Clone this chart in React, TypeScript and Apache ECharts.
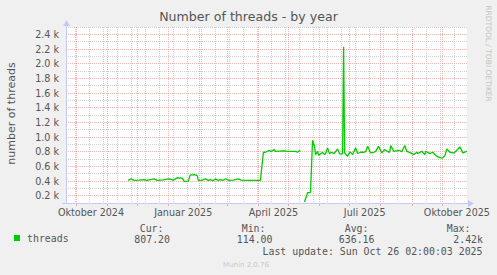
import React, { useEffect, useRef } from "react";
import * as echarts from "echarts";

// ---- data ----
const DATES = [
  "2024-11-22","2024-11-25","2024-11-28","2024-12-03","2024-12-08","2024-12-11","2024-12-18","2024-12-21","2024-12-27",
  "2025-01-02","2025-01-06","2025-01-10","2025-01-15","2025-01-17","2025-01-21","2025-01-23","2025-01-27","2025-01-30","2025-01-31",
  "2025-02-04","2025-02-07","2025-02-10","2025-02-12","2025-02-15","2025-02-17","2025-02-20","2025-02-22","2025-02-25","2025-02-27",
  "2025-03-03","2025-03-07","2025-03-12","2025-03-15","2025-03-24","2025-04-03",
  "2025-04-06","2025-04-08","2025-04-12","2025-04-13","2025-04-17","2025-04-18","2025-04-26","2025-05-01","2025-05-08","2025-05-10","2025-05-12","2025-05-13",
  "2025-05-15",
  "2025-05-17","2025-05-20","2025-05-23","2025-05-25","2025-05-27","2025-05-28","2025-05-30","2025-05-31",
  "2025-06-02","2025-06-04","2025-06-06","2025-06-07","2025-06-09","2025-06-11","2025-06-13","2025-06-15","2025-06-17","2025-06-19","2025-06-21","2025-06-24","2025-06-25","2025-06-26","2025-06-29",
  "2025-07-01","2025-07-02","2025-07-04","2025-07-07","2025-07-09","2025-07-12","2025-07-15","2025-07-17","2025-07-19","2025-07-22","2025-07-25","2025-07-27","2025-07-30",
  "2025-08-02","2025-08-05","2025-08-08","2025-08-10","2025-08-11","2025-08-14","2025-08-19","2025-08-22","2025-08-25","2025-08-27","2025-08-31",
  "2025-09-03","2025-09-06","2025-09-07","2025-09-11","2025-09-14","2025-09-15","2025-09-19","2025-09-22","2025-09-24","2025-09-26","2025-09-30",
  "2025-10-02","2025-10-04","2025-10-06","2025-10-09","2025-10-13","2025-10-16","2025-10-19","2025-10-22","2025-10-25","2025-10-26",
];
const THREADS: (number | null)[] = [
  409,428,409,412,419,409,428,409,414,
  428,412,442,440,395,398,480,487,473,409,
  412,428,409,419,405,428,409,419,409,428,
  409,412,428,412,409,409,
  792,792,819,800,828,805,810,805,805,792,812,805,
  null,
  114,240,245,955,870,760,805,751,
  770,790,760,775,852,770,792,775,800,838,770,770,2231,783,737,
  790,790,760,852,775,792,792,800,874,783,790,805,875,
  783,828,800,792,883,805,819,800,883,805,783,
  760,792,774,805,760,805,774,792,760,737,715,
  715,746,838,792,783,819,865,783,800,807,
];

const MONTH_STARTS = [
  "2024-10-01","2024-11-01","2024-12-01","2025-01-01","2025-02-01","2025-03-01","2025-04-01",
  "2025-05-01","2025-06-01","2025-07-01","2025-08-01","2025-09-01","2025-10-01",
];
const BIWEEKLY = [
  "2024-09-30","2024-10-14","2024-10-28","2024-11-11","2024-11-25","2024-12-09","2024-12-23",
  "2025-01-06","2025-01-20","2025-02-03","2025-02-17","2025-03-03","2025-03-17","2025-03-31",
  "2025-04-14","2025-04-28","2025-05-12","2025-05-26","2025-06-09","2025-06-23","2025-07-07",
  "2025-07-21","2025-08-04","2025-08-18","2025-09-01","2025-09-15","2025-09-29","2025-10-13",
];
const LABEL_DATES = ["2024-10-16","2025-01-16","2025-04-16","2025-07-16","2025-10-16"];
const LABEL_TEXTS = ["Oktober 2024","Januar 2025","April 2025","Juli 2025","Oktober 2025"];

const STAT_LABELS = ["Cur:", "Min:", "Avg:", "Max:"];
const STAT_VALUES = ["807.20", "114.00", "636.16", "2.42k"];

const END_TIME = "2025-10-26T02:00:00Z";
const SPAN_DAYS = 400;

const ts = (s: string) => new Date(s.length <= 10 ? s + "T00:00:00Z" : s).getTime();

export default function App() {
  const ref = useRef<HTMLDivElement>(null);
  useEffect(() => {
    if (!ref.current) return;
    const chart = echarts.init(ref.current, null, { renderer: "svg" });
    const xMax = ts(END_TIME);
    const xMin = xMax - SPAN_DAYS * 86400000;
    const labelMap: Record<number, string> = {};
    LABEL_DATES.forEach((d, i) => (labelMap[ts(d)] = LABEL_TEXTS[i]));
    const data = DATES.map((d, i) => [ts(d), THREADS[i]]);
    const textCol = "#555";
    const mono = "'DejaVu Sans Mono', monospace";
    const axisCol = "#c8c8f8";
    const redGrid = "rgba(235,130,130,0.6)";
    const greyGrid = "#cfcfcf";

    const graphics: any[] = [
      { type: "line", shape: { x1: 66.5, y1: 204, x2: 66.5, y2: 22 }, style: { stroke: axisCol, lineWidth: 1 }, z: 10 },
      { type: "polygon", shape: { points: [[63, 26], [70, 26], [66.5, 20]] }, style: { fill: axisCol }, z: 10 },
      { type: "line", shape: { x1: 62, y1: 203.5, x2: 470, y2: 203.5 }, style: { stroke: axisCol, lineWidth: 1 }, z: 10 },
      { type: "polygon", shape: { points: [[468, 200], [468, 207], [474, 203.5]] }, style: { fill: axisCol }, z: 10 },
      {
        type: "text", x: 11, y: 113.5, rotation: Math.PI / 2,
        style: { text: "number of threads", fontSize: 11, fontFamily: "'DejaVu Sans'", fill: textCol, align: "center", verticalAlign: "middle" },
      },
      {
        type: "text", x: 488, y: 53.5, rotation: -Math.PI / 2,
        style: { text: "RRDTOOL / TOBI OETIKER", fontSize: 7.5, fontFamily: "'DejaVu Sans'", fill: "#c4c4c4", align: "center", verticalAlign: "middle" },
      },
      {
        type: "text", x: 482.5, y: 251,
        style: { text: "Last update: Sun Oct 26 02:00:03 2025", fontSize: 9.9, fontFamily: mono, fill: textCol, align: "right", verticalAlign: "middle" },
      },
      {
        type: "text", x: 246, y: 264.5,
        style: { text: "Munin 2.0.76", fontSize: 7, fontFamily: "'DejaVu Sans'", fill: "#c8c8c8", align: "center", verticalAlign: "middle" },
      },
    ];
    const labelRight = [163.5, 265.5, 368.5, 470.5];
    const valueRight = [170, 272.5, 374.5, 483];
    STAT_LABELS.forEach((t, i) => {
      graphics.push({
        type: "text", x: labelRight[i], y: 228.3,
        style: { text: t, fontSize: 9.9, fontFamily: mono, fill: textCol, align: "right", verticalAlign: "middle" },
      });
      graphics.push({
        type: "text", x: valueRight[i], y: 239.3,
        style: { text: STAT_VALUES[i], fontSize: 9.9, fontFamily: mono, fill: textCol, align: "right", verticalAlign: "middle" },
      });
    });

    chart.setOption({
      animation: false,
      backgroundColor: "#f0f0f0",
      textStyle: { fontFamily: "'DejaVu Sans'" },
      title: {
        text: "Number of threads - by year",
        left: "center",
        top: 10,
        padding: 0,
        textStyle: { fontSize: 12.6, fontWeight: "normal", color: textCol, fontFamily: "'DejaVu Sans'" },
      },
      legend: {
        data: ["threads"],
        left: 9,
        top: 228,
        icon: "rect",
        itemWidth: 6,
        itemHeight: 6,
        itemGap: 5,
        textStyle: { fontFamily: mono, fontSize: 9.9, color: textCol, padding: [0, 0, 0, 2] },
      },
      grid: {
        left: 66, right: 30, top: 27, bottom: 72,
        show: true, backgroundColor: "#ffffff", borderWidth: 0,
      },
      xAxis: [
        {
          type: "value", min: xMin, max: xMax, position: "bottom",
          axisLine: { show: false },
          axisTick: { show: true, length: 1, customValues: BIWEEKLY.map(ts), lineStyle: { color: "#f0f0f0" } },
          axisLabel: { show: false },
          splitLine: { show: true, lineStyle: { color: greyGrid, type: [1, 1], width: 1 } },
        },
        {
          type: "value", min: xMin, max: xMax, position: "bottom",
          axisLine: { show: false },
          axisTick: { show: true, length: 3, customValues: MONTH_STARTS.map(ts), lineStyle: { color: redGrid } },
          axisLabel: {
            show: true,
            customValues: LABEL_DATES.map(ts),
            formatter: (v: number) => labelMap[v] ?? "",
            fontSize: 9.6, color: textCol, margin: 4, fontFamily: "'DejaVu Sans'",
          },
          splitLine: { show: true, lineStyle: { color: redGrid, type: [1, 1], width: 1 } },
        },
      ],
      yAxis: {
        type: "value", min: 100, max: 2500, interval: 100,
        axisLine: { show: false },
        axisTick: { show: false },
        axisLabel: {
          formatter: (v: number) => (v % 200 === 0 ? (v / 1000).toFixed(1) + " k" : ""),
          fontSize: 9.6, color: textCol, margin: 7, fontFamily: "'DejaVu Sans'",
        },
        splitLine: { show: true, lineStyle: { color: [greyGrid, redGrid], type: [1, 1], width: 1 } },
      },
      series: [
        {
          name: "threads",
          type: "line",
          xAxisIndex: 0,
          data,
          showSymbol: false,
          connectNulls: false,
          color: "#00cc00",
          lineStyle: { color: "#00cc00", width: 1.3 },
          z: 5,
        },
      ],
      graphic: graphics,
    });
    return () => chart.dispose();
  }, []);
  return <div ref={ref} style={{ position: "fixed", left: 0, top: 0, width: 497, height: 275 }} />;
}
